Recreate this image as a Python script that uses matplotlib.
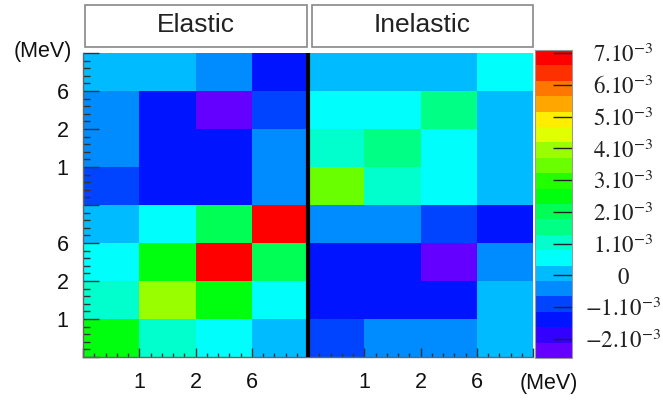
import colorsys
import numpy as np
import matplotlib
matplotlib.use("Agg")
import matplotlib.pyplot as plt
from matplotlib.colors import ListedColormap, Normalize
from matplotlib.patches import Rectangle
from matplotlib.ticker import MultipleLocator

plt.rcParams['font.family'] = ['Liberation Sans', 'DejaVu Sans']
plt.rcParams['mathtext.fontset'] = 'stix'

# ---------------- data ----------------
blocks = ["Elastic", "Inelastic"]
energy_labels = ["1", "2", "6"]
unit_label = "(MeV)"

# covariance values in units of 1e-3, rows listed from the top of the picture down
cov_rows = [
    [0.07, 0.07, -0.42, -1.40, 0.07, 0.07, 0.07, 0.55],
    [-0.42, -1.40, -2.55, -0.90, 0.55, 0.55, 1.52, 0.07],
    [-0.42, -1.40, -1.40, -0.42, 1.04, 1.52, 0.55, 0.07],
    [-0.90, -1.40, -1.40, -0.42, 3.46, 1.04, 0.55, 0.07],
    [0.07, 0.55, 2.00, 7.05, -0.42, -0.42, -0.90, -1.40],
    [0.55, 2.50, 7.05, 2.00, -1.40, -1.40, -2.55, -0.42],
    [1.04, 3.95, 2.50, 0.55, -1.40, -1.40, -1.40, 0.07],
    [2.50, 1.04, 0.55, 0.07, -0.90, -0.42, -0.42, 0.07],
]
z_min, z_max = -2.6e-3, 7.1e-3
cbar_ticks = [-2, -1, 0, 1, 2, 3, 4, 5, 6, 7]
n_levels = 20

# ---------------- palette (ROOT "pretty" palette, 20 contours) ----------------
colors = []
for k in range(n_levels):
    idx = int((k + 0.99) * 50 / n_levels)
    hue = 280 - (idx + 1) * 5.6
    colors.append(colorsys.hls_to_rgb(max(hue, 0) / 360.0, 0.5, 1.0))
cmap = ListedColormap(colors)
norm = Normalize(vmin=z_min, vmax=z_max)

W, H = 663, 401
fig = plt.figure(figsize=(W / 100, H / 100), dpi=100)

def fx(px):
    return px / W

def fy(py):
    return 1 - py / H

ax = fig.add_axes([fx(83), fy(357), fx(450), 304 / H])
Z = np.array(cov_rows)[::-1] * 1e-3
n = Z.shape[0]
mesh = ax.pcolormesh(np.arange(n + 1), np.arange(n + 1), Z, cmap=cmap, norm=norm,
                     shading='flat', edgecolors='face', linewidth=0)
ax.set_xlim(0, n)
ax.set_ylim(0, n)
ax.axvline(n / 2, color='black', lw=3.0, zorder=5)

tick_labels = [""] + energy_labels + [""] + energy_labels + [""]
ax.set_xticks(np.arange(n + 1))
ax.set_xticklabels(tick_labels)
ax.set_yticks(np.arange(n + 1))
ax.set_yticklabels(tick_labels)
ax.xaxis.set_minor_locator(MultipleLocator(0.2))
ax.yaxis.set_minor_locator(MultipleLocator(0.2))
ax.tick_params(axis='x', which='major', direction='in', length=6.5, width=1,
               color='#333333', pad=10.5, labelsize=15.5, labelcolor='#111111')
ax.tick_params(axis='x', which='minor', direction='in', length=3, width=1, color='#333333')
ax.tick_params(axis='y', which='major', direction='in', length=11.5, width=1,
               color='#333333', pad=10.5, labelsize=15.5, labelcolor='#111111')
ax.tick_params(axis='y', which='minor', direction='in', length=5, width=1, color='#333333')
for s in ['top', 'right']:
    ax.spines[s].set_visible(False)
for s in ['left', 'bottom']:
    ax.spines[s].set_color('#666666')
    ax.spines[s].set_linewidth(1)

# title boxes
box_x = [(85, 307), (312, 533)]
for name, (x0, x1) in zip(blocks, box_x):
    fig.add_artist(Rectangle((fx(x0), fy(47)), fx(x1 - x0), 42 / H, transform=fig.transFigure,
                             facecolor='white', edgecolor='#888888', lw=1.2))
    fig.text(fx((x0 + x1) / 2), fy(25), name, ha='center', va='center',
             fontsize=19, color='#222222')

fig.text(fx(43), fy(52), unit_label, ha='center', va='center', fontsize=15.5, color='#111111')
fig.text(fx(549), fy(384), unit_label, ha='center', va='center', fontsize=15.5, color='#111111')

# colour bar
cax = fig.add_axes([fx(535), fy(358), fx(37), 308 / H])
cb = fig.colorbar(mesh, cax=cax)
cb.set_ticks([t * 1e-3 for t in cbar_ticks])
lbls = []
for t in cbar_ticks:
    if t == 0:
        lbls.append(r'$0$')
    else:
        lbls.append(r'$%d.10^{-3}$' % t)
cb.set_ticklabels(lbls)
cb.outline.set_edgecolor('#999999')
cb.outline.set_linewidth(0.8)
cax.tick_params(direction='in', length=14, width=1, color='#222222', pad=37,
                labelsize=16.5, labelcolor='#222222')
cax.minorticks_off()
for lbl in cax.get_yticklabels():
    lbl.set_ha('center')

fig.savefig('out.png', dpi=100)
